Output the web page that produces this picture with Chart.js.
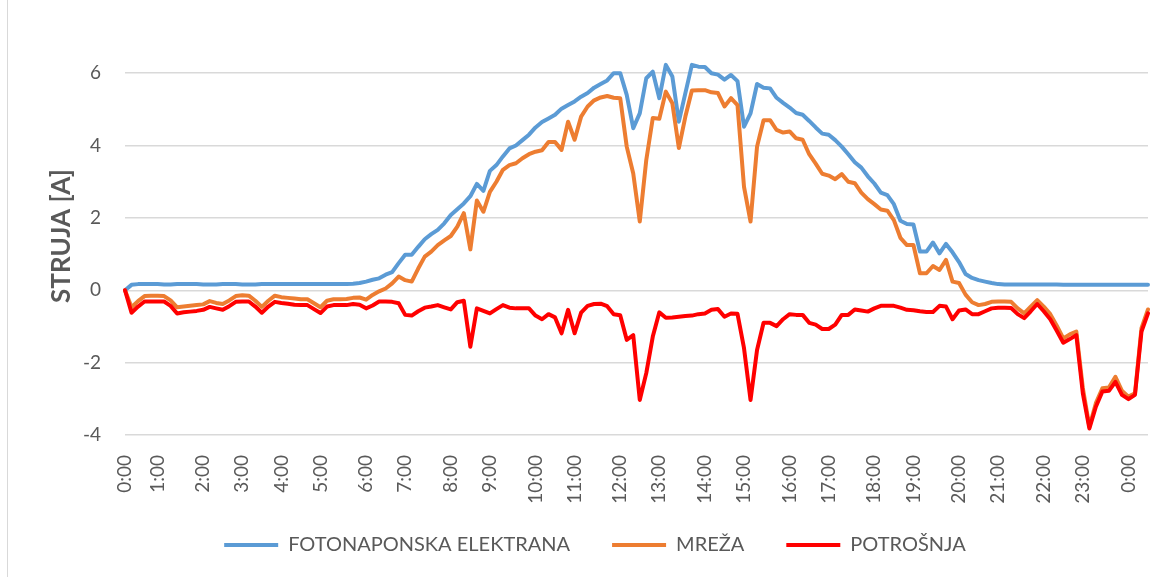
<!DOCTYPE html>
<html>
<head>
<meta charset="utf-8">
<script src="https://cdn.jsdelivr.net/npm/chart.js@4.4.1/dist/chart.umd.min.js"></script>
<style>
html,body{margin:0;padding:0;background:#fff;}
#wrap{position:relative;width:1176px;height:578px;overflow:hidden;}
#frame{position:absolute;left:7px;top:0;width:1160px;height:577px;border-left:1px solid #d9d9d9;box-sizing:border-box;}
canvas{position:absolute;left:0;top:0;}
</style>
</head>
<body>
<div id="wrap"><div id="frame"></div><canvas id="c" width="1176" height="578"></canvas></div>
<script>
// Hour tick labels and number of samples within each hour (the last entry is the tail after the final 0:00)
const hourLabels = ["0:00","1:00","2:00","3:00","4:00","5:00","6:00","7:00","8:00","9:00","10:00","11:00","12:00","13:00","14:00","15:00","16:00","17:00","18:00","19:00","20:00","21:00","22:00","23:00","0:00"];
const samplesPerHour = [5,7,6,6,6,7,6,7,6,7,6,7,6,7,6,7,6,7,6,7,6,7,6,7,4];

const seriesNames = ["FOTONAPONSKA ELEKTRANA","MREŽA","POTROŠNJA"];

const pvValues = [
0,0.15,0.17,0.17,0.17,0.17,0.16,0.16,0.17,0.17,
0.17,0.17,0.16,0.16,0.16,0.17,0.17,0.17,0.16,0.16,
0.16,0.17,0.17,0.17,0.17,0.17,0.17,0.17,0.17,0.17,
0.17,0.17,0.17,0.17,0.17,0.18,0.20,0.24,0.29,0.33,
0.43,0.50,0.75,0.98,0.98,1.20,1.41,1.55,1.67,1.85,
2.08,2.24,2.40,2.60,2.94,2.75,3.30,3.46,3.70,3.92,
4.00,4.15,4.30,4.50,4.65,4.75,4.85,5.02,5.12,5.22,
5.35,5.45,5.60,5.70,5.80,6.00,6.00,5.40,4.48,4.89,
5.86,6.04,5.31,6.23,5.91,4.66,5.45,6.23,6.18,6.17,
6.00,5.96,5.82,5.95,5.78,4.52,4.89,5.70,5.60,5.58,
5.32,5.18,5.05,4.90,4.85,4.68,4.50,4.33,4.30,4.15,
3.97,3.76,3.54,3.39,3.15,2.95,2.70,2.63,2.38,1.92,
1.83,1.82,1.07,1.07,1.32,1.02,1.28,1.05,0.78,0.45,
0.34,0.28,0.24,0.20,0.17,0.16,0.16,0.16,0.16,0.16,
0.16,0.16,0.16,0.16,0.15,0.15,0.15,0.15,0.15,0.15,
0.15,0.15,0.15,0.15,0.15,0.15,0.15,0.15
];

const gridValues = [
0,-0.47,-0.30,-0.16,-0.15,-0.15,-0.16,-0.28,-0.47,-0.45,
-0.43,-0.41,-0.39,-0.30,-0.35,-0.38,-0.28,-0.16,-0.14,-0.15,
-0.29,-0.46,-0.29,-0.15,-0.19,-0.21,-0.23,-0.25,-0.25,-0.36,
-0.47,-0.29,-0.25,-0.25,-0.24,-0.21,-0.20,-0.26,-0.13,-0.03,
0.05,0.19,0.38,0.28,0.24,0.60,0.93,1.07,1.25,1.38,
1.50,1.76,2.13,1.13,2.48,2.17,2.72,3.00,3.33,3.46,
3.51,3.65,3.76,3.83,3.87,4.10,4.10,3.88,4.66,4.16,
4.80,5.08,5.25,5.33,5.37,5.32,5.31,3.97,3.23,1.90,
3.60,4.76,4.74,5.49,5.17,3.93,4.80,5.52,5.53,5.53,
5.47,5.45,5.08,5.31,5.12,2.86,1.90,3.97,4.70,4.70,
4.43,4.36,4.39,4.20,4.16,3.76,3.50,3.22,3.17,3.07,
3.21,3.00,2.96,2.70,2.52,2.38,2.23,2.20,1.94,1.45,
1.25,1.25,0.47,0.47,0.67,0.56,0.84,0.24,0.20,-0.12,
-0.33,-0.41,-0.38,-0.32,-0.31,-0.31,-0.32,-0.50,-0.64,-0.45,
-0.27,-0.45,-0.66,-0.98,-1.33,-1.22,-1.14,-2.70,-3.77,-3.12,
-2.71,-2.69,-2.39,-2.78,-2.94,-2.85,-1.05,-0.53
];

const loadValues = [
0,-0.62,-0.45,-0.31,-0.31,-0.31,-0.31,-0.43,-0.64,-0.61,
-0.59,-0.57,-0.54,-0.46,-0.50,-0.54,-0.44,-0.32,-0.31,-0.31,
-0.45,-0.62,-0.45,-0.32,-0.35,-0.37,-0.40,-0.41,-0.41,-0.52,
-0.63,-0.45,-0.41,-0.41,-0.41,-0.38,-0.40,-0.50,-0.42,-0.31,
-0.31,-0.32,-0.36,-0.68,-0.70,-0.58,-0.48,-0.45,-0.41,-0.47,
-0.53,-0.33,-0.29,-1.56,-0.50,-0.57,-0.64,-0.52,-0.41,-0.48,
-0.50,-0.50,-0.50,-0.70,-0.80,-0.66,-0.75,-1.19,-0.54,-1.19,
-0.62,-0.43,-0.38,-0.37,-0.44,-0.66,-0.69,-1.37,-1.24,-3.03,
-2.29,-1.28,-0.61,-0.76,-0.75,-0.73,-0.71,-0.70,-0.66,-0.64,
-0.54,-0.52,-0.73,-0.64,-0.65,-1.60,-3.03,-1.65,-0.90,-0.90,
-0.99,-0.80,-0.66,-0.68,-0.68,-0.90,-0.95,-1.07,-1.07,-0.95,
-0.68,-0.68,-0.53,-0.56,-0.59,-0.50,-0.43,-0.43,-0.43,-0.48,
-0.54,-0.55,-0.58,-0.60,-0.60,-0.43,-0.45,-0.80,-0.56,-0.53,
-0.66,-0.66,-0.58,-0.50,-0.48,-0.48,-0.49,-0.66,-0.77,-0.58,
-0.38,-0.58,-0.80,-1.12,-1.45,-1.35,-1.24,-2.85,-3.82,-3.22,
-2.80,-2.78,-2.53,-2.89,-3.01,-2.89,-1.14,-0.64
];

const yTickValues = [-4,-2,0,2,4,6];

// build category labels: hour label at first sample of each hour, blank for the rest
const categories = [];
hourLabels.forEach((lab, h) => {
  categories.push(lab);
  for (let k = 1; k < samplesPerHour[h]; k++) categories.push("");
});

const FONT = "Lato, 'Open Sans', sans-serif";
const TXT = "#595959";

new Chart(document.getElementById('c'), {
  type: 'line',
  data: {
    labels: categories,
    datasets: [
      {label: seriesNames[0], data: pvValues, borderColor: '#5B9BD5', backgroundColor: '#5B9BD5', order: 2},
      {label: seriesNames[1], data: gridValues, borderColor: '#ED7D31', backgroundColor: '#ED7D31', order: 1},
      {label: seriesNames[2], data: loadValues, borderColor: '#FF0000', backgroundColor: '#FF0000', order: 0}
    ]
  },
  options: {
    responsive: false,
    devicePixelRatio: 1,
    animation: false,
    datasets: {
      line: {borderWidth: 4, pointRadius: 0, tension: 0, fill: false, borderJoinStyle: 'round', borderCapStyle: 'round'}
    },
    layout: {padding: {left: 42, right: 28, top: 37, bottom: 13}},
    plugins: {
      tooltip: {enabled: false},
      legend: {
        position: 'bottom',
        labels: {
          usePointStyle: true,
          pointStyle: 'line',
          pointStyleWidth: 54,
          padding: 42,
          color: TXT,
          font: {family: FONT, size: 20},
          sort: (a, b) => a.datasetIndex - b.datasetIndex
        }
      }
    },
    scales: {
      x: {
        type: 'category',
        offset: false,
        grid: {display: false},
        border: {display: false},
        ticks: {
          autoSkip: false, minRotation: 90, maxRotation: 90, padding: 12,
          color: TXT, font: {family: FONT, size: 19}
        },
        afterFit: (s) => {
          s.height = 58;
          s.paddingLeft = 0; s.paddingRight = 0;
          s._computeLabelArea = () => undefined;
        }
      },
      y: {
        min: -4, max: 7,
        afterBuildTicks: (s) => { s.ticks = yTickValues.map(v => ({value: v})); },
        grid: {color: '#d9d9d9', lineWidth: 1.5, drawTicks: false},
        border: {display: false},
        ticks: {padding: 24, color: TXT, font: {family: FONT, size: 19}},
        title: {display: true, text: 'STRUJA [A]', color: TXT, font: {family: FONT, size: 26, weight: 'bold'}, padding: {top: 4, bottom: 4}},
        afterFit: (s) => { s.width = 83; }
      }
    }
  }
});
</script>
</body>
</html>
